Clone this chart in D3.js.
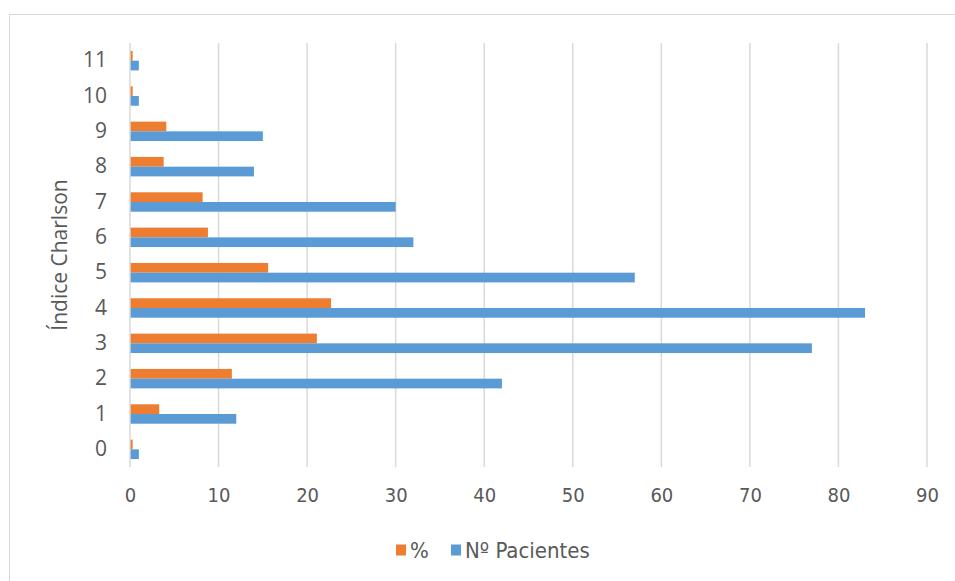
<!DOCTYPE html>
<html>
<head>
<meta charset="utf-8">
<script src="https://cdn.jsdelivr.net/npm/d3@7"></script>
<style>
  html, body { margin: 0; padding: 0; background: #fff; }
  svg { display: block; }
</style>
</head>
<body>
<svg id="chart" width="955" height="581"></svg>
<script>
// Charlson index categories (bottom to top) and the two series
const categories = ["0", "1", "2", "3", "4", "5", "6", "7", "8", "9", "10", "11"];
const pacientes = [1, 12, 42, 77, 83, 57, 32, 30, 14, 15, 1, 1];
const porcentaje = [0.3, 3.3, 11.5, 21.1, 22.7, 15.6, 8.8, 8.2, 3.8, 4.1, 0.3, 0.3];
const xTicks = [0, 10, 20, 30, 40, 50, 60, 70, 80, 90];
const seriesNames = ["%", "Nº Pacientes"];
const seriesColors = ["#ED7D31", "#5B9BD5"];

const svg = d3.select("#chart");
const W = 955, H = 581;
const plot = { left: 130, right: 927, top: 43, bottom: 467 };
const textColor = "#595959";
const font = "'Open Sans', 'Noto Sans', sans-serif";
const narrow = "'DejaVu Sans Condensed', 'Open Sans', sans-serif";

// chart frame
svg.append("rect")
  .attr("x", 9.5).attr("y", 14.5)
  .attr("width", W + 10).attr("height", H + 10)
  .attr("fill", "#fff").attr("stroke", "#d9d9d9").attr("stroke-width", 1);

const x = d3.scaleLinear().domain([0, 90]).range([plot.left, plot.right]);
const y = d3.scaleBand().domain(categories).range([plot.bottom, plot.top])
  .paddingInner(0.45).paddingOuter(0.225);
const sub = d3.scaleBand().domain(seriesNames).range([0, y.bandwidth()]);

// vertical gridlines
svg.append("g")
  .selectAll("line")
  .data(xTicks.filter(d => d > 0))
  .join("line")
  .attr("x1", d => x(d)).attr("x2", d => x(d))
  .attr("y1", plot.top).attr("y2", plot.bottom)
  .attr("stroke", "#d9d9d9").attr("stroke-width", 1.5);

// bars
const rows = categories.map((c, i) => ({ cat: c, vals: [porcentaje[i], pacientes[i]] }));
const groups = svg.append("g").selectAll("g")
  .data(rows).join("g")
  .attr("transform", d => `translate(0,${y(d.cat)})`);
groups.selectAll("rect")
  .data(d => d.vals.map((v, k) => ({ v, k })))
  .join("rect")
  .attr("x", x(0))
  .attr("y", d => sub(seriesNames[d.k]))
  .attr("width", d => x(d.v) - x(0))
  .attr("height", sub.bandwidth())
  .attr("fill", d => seriesColors[d.k]);

// category axis line
svg.append("line")
  .attr("x1", x(0)).attr("x2", x(0))
  .attr("y1", plot.top).attr("y2", plot.bottom)
  .attr("stroke", "#d9d9d9").attr("stroke-width", 1.5);

// y axis labels
const yAxis = d3.axisLeft(y).tickSize(0).tickPadding(23);
const gy = svg.append("g").attr("transform", `translate(${x(0)},0)`).call(yAxis);
gy.select(".domain").remove();
gy.selectAll("text")
  .attr("fill", textColor)
  .style("font-family", font)
  .style("font-size", "21px");

// x axis labels
const xAxis = d3.axisBottom(x).tickValues(xTicks).tickSize(0).tickPadding(21);
const gx = svg.append("g").attr("transform", `translate(0,${plot.bottom})`).call(xAxis);
gx.select(".domain").remove();
gx.selectAll("text")
  .attr("fill", textColor)
  .style("font-family", narrow)
  .style("font-size", "20px");

// y axis title
svg.append("text")
  .attr("transform", `translate(67,${(plot.top + plot.bottom) / 2}) rotate(-90)`)
  .attr("text-anchor", "middle")
  .attr("fill", textColor)
  .style("font-family", font)
  .style("font-size", "21px")
  .text("Índice Charlson");

// legend
const legend = svg.append("g").attr("transform", "translate(396,550)");
const items = [
  { name: seriesNames[0], color: seriesColors[0], x: 0 },
  { name: seriesNames[1], color: seriesColors[1], x: 55 }
];
const li = legend.selectAll("g").data(items).join("g")
  .attr("transform", d => `translate(${d.x},0)`);
li.append("rect")
  .attr("x", 0).attr("y", -5.5).attr("width", 10).attr("height", 11)
  .attr("fill", d => d.color);
li.append("text")
  .attr("x", 14).attr("y", 0).attr("dy", "0.35em")
  .attr("fill", textColor)
  .style("font-family", narrow)
  .style("font-size", "22px")
  .text(d => d.name);
</script>
</body>
</html>
